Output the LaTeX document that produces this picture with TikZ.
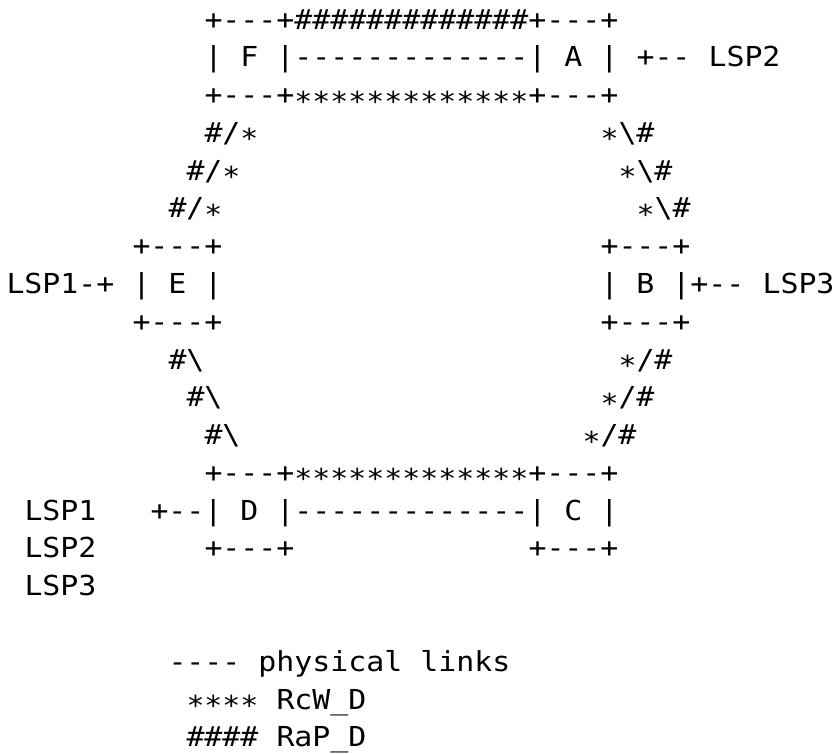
\documentclass[tikz,border=0pt]{standalone}
\usepackage{fontspec}
\setmonofont{DejaVu Sans Mono}[FakeStretch=1.087]
\tikzset{
  glyphs/.style={anchor=base west, inner sep=0pt, outer sep=0pt,
    font=\ttfamily\fontsize{27.5}{30}\selectfont, text=black}
}
% asterisk set on the axis of the plus and minus signs
\newcommand\st{\raisebox{-6.5pt}{*}}
% one run of characters: name, column, row, text
\newcommand\asc[4]{%
  \node[glyphs] (#1) at ({6.5+18.0*#2},{-(29.0+37.78*(#3-1))}) {#4};}
\begin{document}
\begin{tikzpicture}[x=1pt,y=1pt]
\fill[white] (0,0) rectangle (835,-753);
\useasboundingbox (0,0) rectangle (835,-753);
% upper boxes F and A
\asc{ra}{11}{1}{+---+\#\#\#\#\#\#\#\#\#\#\#\#\#+---+}
\asc{rb}{11}{2}{| F |-------------| A |}
\asc{rbl}{35}{2}{+--}
\asc{rbt}{39}{2}{LSP2}
\asc{rc}{11}{3}{+---+\st\st\st\st\st\st\st\st\st\st\st\st\st+---+}
% upper diagonals
\asc{rdl}{11}{4}{\#/\st}
\asc{rdr}{33}{4}{\st\textbackslash\#}
\asc{rel}{10}{5}{\#/\st}
\asc{rer}{34}{5}{\st\textbackslash\#}
\asc{rfl}{9}{6}{\#/\st}
\asc{rfr}{35}{6}{\st\textbackslash\#}
% middle boxes E and B
\asc{rgl}{7}{7}{+---+}
\asc{rgr}{33}{7}{+---+}
\asc{rht}{0}{8}{LSP1-+}
\asc{rhl}{7}{8}{| E |}
\asc{rhr}{33}{8}{| B |+--}
\asc{rhu}{42}{8}{LSP3}
\asc{ril}{7}{9}{+---+}
\asc{rir}{33}{9}{+---+}
% lower diagonals
\asc{rjl}{9}{10}{\#\textbackslash}
\asc{rjr}{34}{10}{\st/\#}
\asc{rkl}{10}{11}{\#\textbackslash}
\asc{rkr}{33}{11}{\st/\#}
\asc{rll}{11}{12}{\#\textbackslash}
\asc{rlr}{32}{12}{\st/\#}
% lower boxes D and C
\asc{rm}{11}{13}{+---+\st\st\st\st\st\st\st\st\st\st\st\st\st+---+}
\asc{rnt}{1}{14}{LSP1}
\asc{rn}{8}{14}{+--| D |-------------| C |}
\asc{rot}{1}{15}{LSP2}
\asc{rol}{11}{15}{+---+}
\asc{ror}{29}{15}{+---+}
\asc{rpt}{1}{16}{LSP3}
% legend
\asc{lga}{9}{18}{---- physical links}
\asc{lgb}{10}{19}{\st\st\st\st}
\asc{lgbt}{15}{19}{RcW\_D}
\asc{lgc}{10}{20}{\#\#\#\#}
\asc{lgct}{15}{20}{RaP\_D}
\end{tikzpicture}
\end{document}
